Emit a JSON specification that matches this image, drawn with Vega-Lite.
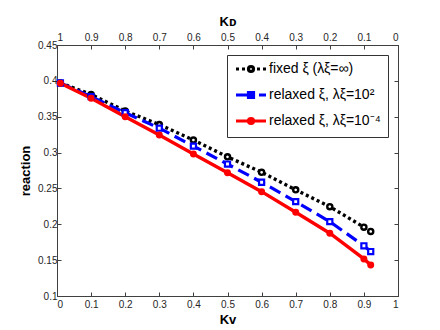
{
  "$schema": "https://vega.github.io/schema/vega-lite/v6.json",
  "autosize": {"type": "none"},
  "width": 341,
  "height": 251,
  "padding": {"left": 57, "top": 45, "right": 42, "bottom": 34},
  "background": "white",
  "data": {
    "values": [
      {"series": "fixed ξ (λξ=∞)", "KV": 0.01, "reaction": 0.397},
      {"series": "fixed ξ (λξ=∞)", "KV": 0.1, "reaction": 0.381},
      {"series": "fixed ξ (λξ=∞)", "KV": 0.2, "reaction": 0.358},
      {"series": "fixed ξ (λξ=∞)", "KV": 0.3, "reaction": 0.339},
      {"series": "fixed ξ (λξ=∞)", "KV": 0.4, "reaction": 0.3175},
      {"series": "fixed ξ (λξ=∞)", "KV": 0.5, "reaction": 0.294},
      {"series": "fixed ξ (λξ=∞)", "KV": 0.6, "reaction": 0.2725},
      {"series": "fixed ξ (λξ=∞)", "KV": 0.7, "reaction": 0.248},
      {"series": "fixed ξ (λξ=∞)", "KV": 0.8, "reaction": 0.2246},
      {"series": "fixed ξ (λξ=∞)", "KV": 0.9, "reaction": 0.196},
      {"series": "fixed ξ (λξ=∞)", "KV": 0.92, "reaction": 0.19},
      {"series": "relaxed ξ, λξ=10²", "KV": 0.01, "reaction": 0.397},
      {"series": "relaxed ξ, λξ=10²", "KV": 0.1, "reaction": 0.378},
      {"series": "relaxed ξ, λξ=10²", "KV": 0.2, "reaction": 0.3556},
      {"series": "relaxed ξ, λξ=10²", "KV": 0.3, "reaction": 0.334},
      {"series": "relaxed ξ, λξ=10²", "KV": 0.4, "reaction": 0.309},
      {"series": "relaxed ξ, λξ=10²", "KV": 0.5, "reaction": 0.284},
      {"series": "relaxed ξ, λξ=10²", "KV": 0.6, "reaction": 0.2586},
      {"series": "relaxed ξ, λξ=10²", "KV": 0.7, "reaction": 0.2316},
      {"series": "relaxed ξ, λξ=10²", "KV": 0.8, "reaction": 0.2037},
      {"series": "relaxed ξ, λξ=10²", "KV": 0.9, "reaction": 0.17},
      {"series": "relaxed ξ, λξ=10²", "KV": 0.92, "reaction": 0.162},
      {"series": "relaxed ξ, λξ=10⁻⁴", "KV": 0.01, "reaction": 0.3966},
      {"series": "relaxed ξ, λξ=10⁻⁴", "KV": 0.1, "reaction": 0.3757},
      {"series": "relaxed ξ, λξ=10⁻⁴", "KV": 0.2, "reaction": 0.35},
      {"series": "relaxed ξ, λξ=10⁻⁴", "KV": 0.3, "reaction": 0.3245},
      {"series": "relaxed ξ, λξ=10⁻⁴", "KV": 0.4, "reaction": 0.298},
      {"series": "relaxed ξ, λξ=10⁻⁴", "KV": 0.5, "reaction": 0.272},
      {"series": "relaxed ξ, λξ=10⁻⁴", "KV": 0.6, "reaction": 0.2455},
      {"series": "relaxed ξ, λξ=10⁻⁴", "KV": 0.7, "reaction": 0.2167},
      {"series": "relaxed ξ, λξ=10⁻⁴", "KV": 0.8, "reaction": 0.1875},
      {"series": "relaxed ξ, λξ=10⁻⁴", "KV": 0.9, "reaction": 0.1517},
      {"series": "relaxed ξ, λξ=10⁻⁴", "KV": 0.92, "reaction": 0.1433}
    ]
  },
  "layer": [
    {
      "transform": [{"filter": "datum.series === 'fixed ξ (λξ=∞)'"}],
      "mark": {"type": "line", "strokeWidth": 3.4, "strokeCap": "butt", "strokeDash": [3, 3]},
      "encoding": {
        "x": {"field": "KV", "type": "quantitative", "scale": {"domain": [0, 1], "nice": false},
          "axis": {"orient": "bottom", "title": "Kᴠ", "values": [0, 0.1, 0.2, 0.3, 0.4, 0.5, 0.6, 0.7, 0.8, 0.9, 1], "format": ".1~f", "labelPadding": 7, "titlePadding": 4}},
        "y": {"field": "reaction", "type": "quantitative", "scale": {"domain": [0.1, 0.45], "nice": false, "zero": false},
          "axis": {"orient": "left", "title": "reaction", "values": [0.1, 0.15, 0.2, 0.25, 0.3, 0.35, 0.4, 0.45], "format": ".2~f", "titlePadding": 5}},
        "color": {"field": "series", "type": "nominal",
          "scale": {"domain": ["fixed ξ (λξ=∞)", "relaxed ξ, λξ=10²", "relaxed ξ, λξ=10⁻⁴"], "range": ["#000000", "#0000ff", "#ff0000"]},
          "legend": {
            "title": null,
            "symbolType": "stroke",
            "symbolSize": 100,
            "symbolStrokeWidth": 3.2,
            "encode": {
              "symbols": {
                "update": {
                  "shape": {"signal": "datum.index === 0 ? 'M-1,0H-0.4M0.2,0H0.8M3.2,0H3.8M4.4,0H5M1.5,0A0.5,0.5 0 1,0 2.5,0A0.5,0.5 0 1,0 1.5,0Z' : datum.index === 1 ? 'M-1,0H2.6M3.6,0H5M1.5,-0.5H2.5V0.5H1.5Z' : 'M-1,0H5M1.5,0A0.5,0.5 0 1,0 2.5,0A0.5,0.5 0 1,0 1.5,0Z'"},
                  "fill": {"signal": "datum.index === 2 ? '#ff0000' : '#ffffff'"},
                  "fillOpacity": {"value": 1},
                  "strokeDash": {"value": []}
                }
              }
            }
          }},
        "order": {"field": "KV", "type": "quantitative"}
      }
    },
    {
      "transform": [{"filter": "datum.series === 'relaxed ξ, λξ=10²'"}],
      "mark": {"type": "line", "strokeWidth": 3.2, "strokeCap": "butt", "strokeDash": [12, 6]},
      "encoding": {
        "x": {"field": "KV", "type": "quantitative", "axis": null},
        "y": {"field": "reaction", "type": "quantitative", "axis": null},
        "color": {"field": "series", "type": "nominal"},
        "order": {"field": "KV", "type": "quantitative"}
      }
    },
    {
      "transform": [{"filter": "datum.series === 'relaxed ξ, λξ=10⁻⁴'"}],
      "mark": {"type": "line", "strokeWidth": 3.4, "strokeCap": "butt"},
      "encoding": {
        "x": {"field": "KV", "type": "quantitative", "axis": null},
        "y": {"field": "reaction", "type": "quantitative", "axis": null},
        "color": {"field": "series", "type": "nominal"},
        "order": {"field": "KV", "type": "quantitative"}
      }
    },
    {
      "transform": [{"filter": "datum.series === 'fixed ξ (λξ=∞)'"}],
      "mark": {"type": "point", "shape": "circle", "size": 26, "strokeWidth": 2.4, "stroke": "#000000", "fill": "#ffffff", "filled": true, "opacity": 1},
      "encoding": {
        "x": {"field": "KV", "type": "quantitative", "axis": null},
        "y": {"field": "reaction", "type": "quantitative", "axis": null}
      }
    },
    {
      "transform": [{"filter": "datum.series === 'relaxed ξ, λξ=10²'"}],
      "mark": {"type": "point", "shape": "square", "size": 26, "strokeWidth": 2.2, "stroke": "#0000ff", "fill": "#ffffff", "filled": true, "opacity": 1},
      "encoding": {
        "x": {"field": "KV", "type": "quantitative", "axis": null},
        "y": {"field": "reaction", "type": "quantitative", "axis": null}
      }
    },
    {
      "transform": [{"filter": "datum.series === 'relaxed ξ, λξ=10⁻⁴'"}],
      "mark": {"type": "point", "shape": "circle", "size": 30, "strokeWidth": 1.5, "stroke": "#ff0000", "fill": "#ff0000", "filled": true, "opacity": 1},
      "encoding": {
        "x": {"field": "KV", "type": "quantitative", "axis": null},
        "y": {"field": "reaction", "type": "quantitative", "axis": null}
      }
    },
    {
      "mark": {"type": "point", "opacity": 0},
      "encoding": {
        "x": {"field": "KV", "type": "quantitative",
          "axis": {"orient": "top", "title": "Kᴅ", "values": [0, 0.1, 0.2, 0.3, 0.4, 0.5, 0.6, 0.7, 0.8, 0.9, 1], "labelExpr": "format(1 - datum.value, '.1~f')", "labelPadding": 7, "titlePadding": 4}},
        "y": {"field": "reaction", "type": "quantitative",
          "axis": {"orient": "right", "title": null, "labels": false, "values": [0.1, 0.15, 0.2, 0.25, 0.3, 0.35, 0.4, 0.45]}}
      }
    }
  ],
  "resolve": {"axis": {"x": "independent", "y": "independent"}},
  "config": {
    "font": "Liberation Sans",
    "view": {"stroke": "#404040", "strokeWidth": 1},
    "axis": {
      "grid": false,
      "domainColor": "#404040",
      "tickColor": "#404040",
      "tickSize": -4,
      "labelColor": "#262626",
      "labelFontSize": 10,
      "labelPadding": 4,
      "titleFontSize": 13,
      "titleFontWeight": "bold",
      "titleColor": "#000000"
    },
    "legend": {
      "orient": "top-right",
      "offset": 10,
      "strokeColor": "#333333",
      "fillColor": "#ffffff",
      "padding": 7,
      "labelFontSize": 14,
      "labelColor": "#000000",
      "labelOffset": 21,
      "rowPadding": 8,
      "labelLimit": 300
    }
  }
}
